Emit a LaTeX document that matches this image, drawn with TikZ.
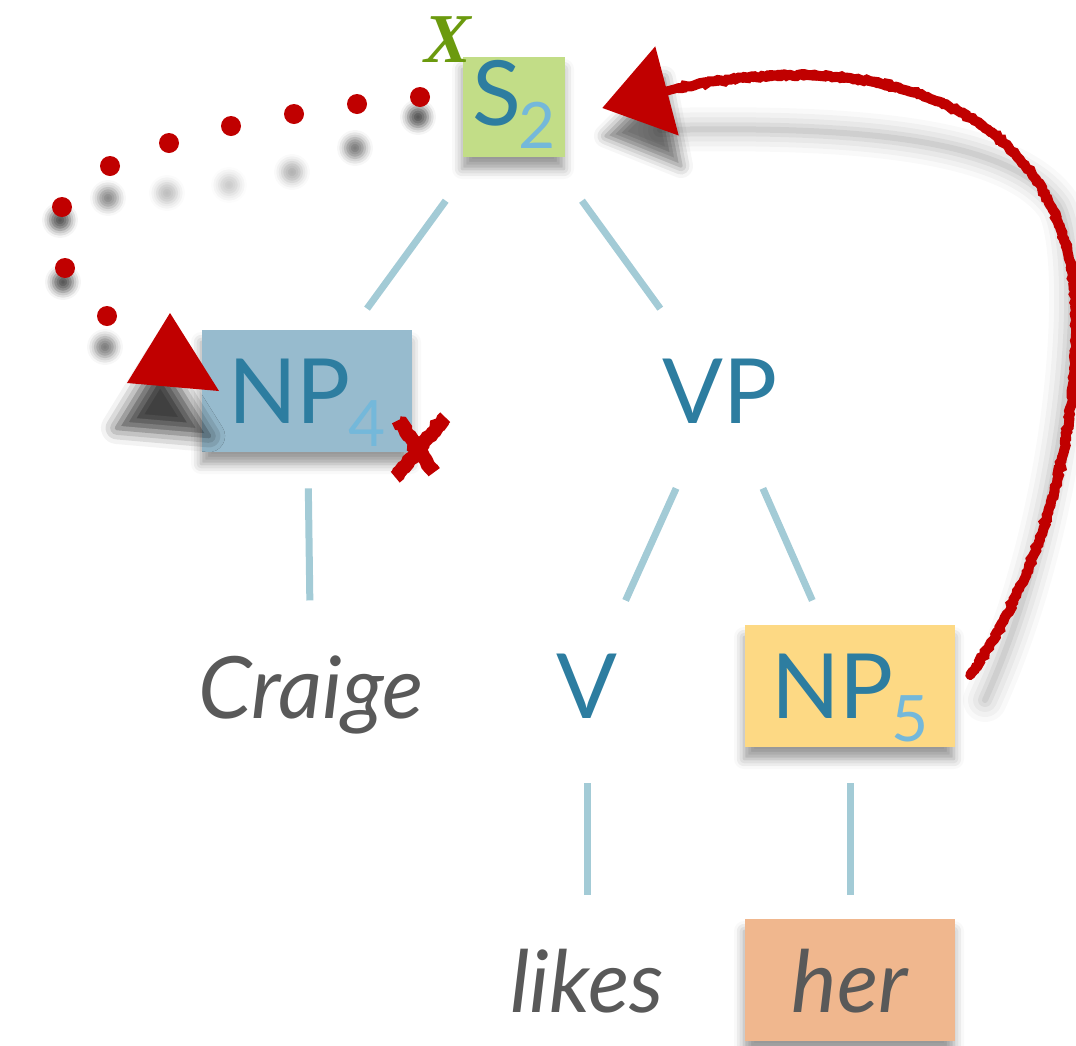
\documentclass[tikz,border=0pt]{standalone}
\usepackage{fontspec}
\setmainfont{Lato}
\newfontfamily\xfont{Liberation Serif}
\usetikzlibrary{arrows.meta,calc,shadows.blur,decorations.pathmorphing}
\definecolor{catblue}{HTML}{2D7DA0}
\definecolor{subblue}{HTML}{74B8DA}
\definecolor{branchblue}{HTML}{A3CBD6}
\definecolor{wordgray}{HTML}{595959}
\definecolor{sgreen}{HTML}{C2DD87}
\definecolor{npblue}{HTML}{97BBCE}
\definecolor{npyellow}{HTML}{FDD984}
\definecolor{herorange}{HTML}{F0B78E}
\definecolor{movered}{HTML}{C00000}
\definecolor{xgreen}{HTML}{6B9A0E}
\newcommand{\catsub}[1]{\kern-2pt\raisebox{-23pt}{\textcolor{subblue}{\fontsize{64}{64}\selectfont#1}}}
\tikzset{
  cat/.style={text=catblue,inner sep=0pt,minimum width=210pt,minimum height=122pt,
    text height=65pt,text depth=0pt,font=\fontsize{90}{90}\selectfont},
  word/.style={cat,text=wordgray,font=\fontsize{86}{86}\selectfont\itshape},
  soft/.style={blur shadow={shadow xshift=-1pt,shadow yshift=-12pt,shadow blur radius=10pt,shadow opacity=40}},
  branch/.style={draw=branchblue,line width=7pt},
  move/.style={draw=movered,line width=10pt,line cap=round,decorate,
    decoration={random steps,segment length=3pt,amplitude=1.2pt}}
}
\begin{document}
\begin{tikzpicture}[x=1pt,y=-1pt]
\useasboundingbox (0,0) rectangle (1076,1045);
% shadow of the long arrow
\foreach \w/\o in {44pt/0.025,34pt/0.03,24pt/0.04,14pt/0.05,6pt/0.06}
  \draw[black,opacity=\o,line width=\w,line cap=round] (660,130) .. controls (850,126) and (1010,137) .. (1058,205) .. controls (1085,250) and (1075,500) .. (985,700);
\path[blur shadow={shadow xshift=4pt,shadow yshift=-28pt,shadow blur radius=12pt,shadow opacity=55}] (602,108) -- (660,50) -- (677,138) -- cycle;
% tree
\node[cat,fill=sgreen,soft,minimum width=102pt,minimum height=100pt,text depth=28pt] (s2) at (514,107) {S\catsub{2}};
\node[text=xgreen,inner sep=0pt,anchor=south east,font=\xfont\fontsize{70}{70}\selectfont\bfseries\itshape] (xlab) at ([shift={(9,6)}]s2.north west) {X};
\node[cat,fill=npblue,soft] (np4) at (307,391) {NP\catsub{4}};
\node[cat] (vp) at (720,391) {VP};
\node[word] (craige) at (311,686) {Craige};
\node[cat] (v) at (587,686) {V};
\node[cat,fill=npyellow,soft] (np5) at (850,686) {NP\catsub{5}};
\node[word] (likes) at (587,980) {likes};
\node[word,fill=herorange,soft] (her) at (850,980) {her};
\foreach \a/\b in {s2/np4,s2/vp,np4/craige,vp/v,vp/np5,v/likes,np5/her}
  \draw[branch] ($(\a)!0.33!(\b)$) -- ($(\a)!0.71!(\b)$);
% dotted movement S2 -> NP4
\foreach \x/\y/\d/\o in {420/97/20pt/65,357/104/44pt/50,294/114/58pt/30,231/126/59pt/20,169/143/50pt/25,110/166/32pt/45,62/207/13pt/65,65/268/14pt/65,107/316/31pt/50}
  \fill[movered,blur shadow={shadow xshift=-2pt,shadow yshift=-\d,shadow blur radius=8pt,shadow opacity=\o}] (\x,\y) circle (10pt);
\fill[movered,blur shadow={shadow xshift=-10pt,shadow yshift=-45pt,shadow blur radius=16pt,shadow opacity=75}] (170,313) -- (127,383) -- (219,391) -- cycle;
% cross on NP4
\coordinate (cross) at (np4.south east);
\draw[move,line width=14pt,line cap=butt] ($(cross)+(-14,-32)$) -- ($(cross)+(22,20)$);
\draw[move,line width=14pt,line cap=butt] ($(cross)+(33,-35)$) -- ($(cross)+(-17,25)$);
% long arrow NP5 -> S2
\coordinate (tail) at ([shift={(15,-11)}]np5.east);
\coordinate (neck) at ([shift={(113,-19)}]s2.east);
\coordinate (tip) at ([shift={(37,1)}]s2.east);
\draw[move] (tail) .. controls (1030,590) and (1074,470) .. (1076,330) .. controls (1078,200) and (1010,100) .. (850,78) .. controls (780,70) and (720,80) .. (neck);
\draw[move,line width=4pt] ([yshift=-3pt]tail) .. controls (1032,590) and (1075,470) .. (1074,330) .. controls (1075,200) and (1010,103) .. (850,81) .. controls (780,73) and (720,83) .. (neck);
\draw[movered,line width=9pt,-{Triangle[length=67pt,width=90pt]}] (neck) -- (tip);
\end{tikzpicture}
\end{document}
